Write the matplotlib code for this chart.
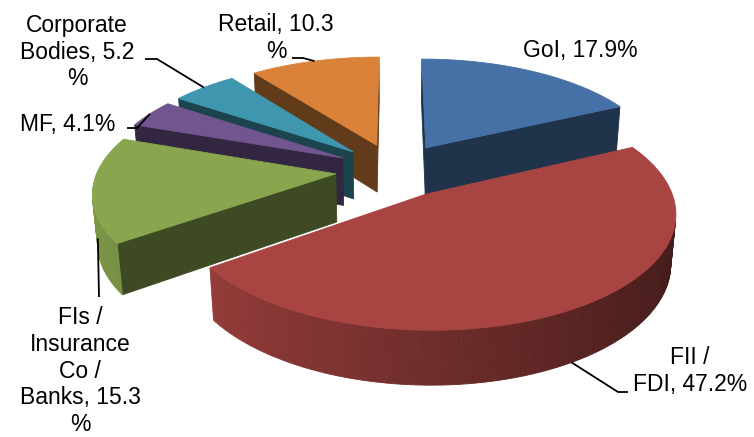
import numpy as np
import matplotlib
matplotlib.use("Agg")
import matplotlib.pyplot as plt
from matplotlib.patches import Polygon
from matplotlib.colors import to_rgb

# ---------------- data ----------------
categories = ["GoI", "FII / FDI", "FIs / Insurance Co / Banks", "MF",
              "Corporate Bodies", "Retail"]
shares = [17.9, 47.2, 15.3, 4.1, 5.2, 10.3]
label_texts = ["GoI, 17.9%", "FII /\nFDI, 47.2%",
               "FIs /\nInsurance\nCo /\nBanks, 15.3\n%", "MF, 4.1%",
               "Corporate\nBodies, 5.2\n%", "Retail, 10.3\n%"]

# ---------------- style ----------------
top_colors = ["#4571A6", "#A84441", "#89A54E", "#70558F", "#3E97AE", "#DA823A"]
label_pos = [(580, 51), (690, 371), (80, 371), (68, 124), (77, 52), (276, 38)]
leader_start = [None, [(628, 392), (618, 392)], [(99, 297)],
                [(127, 128), (137, 128)], [(145, 59), (157, 59)],
                [(292, 58), (303, 58)]]
anchor_bottom = [False, True, True, False, False, False]

TILT = np.radians(27)
FOCAL = 6.0
DEPTH = 0.23
EXPLODE = 0.25
SCALE = 238
CX, CY = 395, 170
W, H = 754, 437


def project(x, y, z):
    yy = y * np.sin(TILT) + z * np.cos(TILT)
    d = y * np.cos(TILT) - z * np.sin(TILT)
    s = FOCAL / (FOCAL + d)
    return CX + SCALE * x * s, CY - SCALE * yy * s, d


def shade(color, f):
    r, g, b = to_rgb(color)
    return (r * f, g * f, b * f)


def proj_poly(pts):
    arr = np.array([project(*p) for p in pts])
    return arr[:, :2], arr[:, 2].mean()


def visible(xy):
    x = xy[:, 0]
    y = -xy[:, 1]
    area = 0.5 * np.sum(x * np.roll(y, -1) - np.roll(x, -1) * y)
    return area > 0


fig = plt.figure(figsize=(W / 100, H / 100), dpi=100)
ax = fig.add_axes([0, 0, 1, 1])
ax.set_xlim(0, W)
ax.set_ylim(H, 0)
ax.axis("off")

sides = []
tops = []
anchors = []
cum = 0.0
for i, v in enumerate(shares):
    a0 = 90 - cum * 3.6
    a1 = a0 - v * 3.6
    cum += v
    mid = np.radians((a0 + a1) / 2)
    ox, oy = EXPLODE * np.cos(mid), EXPLODE * np.sin(mid)
    n = max(int(abs(a0 - a1)), 2) + 1
    th = np.radians(np.linspace(a1, a0, n))
    xs = ox + np.cos(th)
    ys = oy + np.sin(th)
    col = top_colors[i]
    # top face
    top_pts = [(ox, oy, 0)] + [(x, y, 0) for x, y in zip(xs, ys)]
    xy, d = proj_poly(top_pts)
    tops.append((xy, col))
    # outer wall
    for j in range(n - 1):
        quad = [(xs[j], ys[j], -DEPTH), (xs[j + 1], ys[j + 1], -DEPTH),
                (xs[j + 1], ys[j + 1], 0), (xs[j], ys[j], 0)]
        xy, d = proj_poly(quad)
        if visible(xy):
            tm = 0.5 * (th[j] + th[j + 1])
            f = 0.66 - 0.26 * np.cos(tm)
            sides.append((d, xy, shade(col, f)))
    # radial faces
    ra0 = np.radians(a0)
    ra1 = np.radians(a1)
    e0 = (ox + np.cos(ra0), oy + np.sin(ra0))
    e1 = (ox + np.cos(ra1), oy + np.sin(ra1))
    f0 = [(ox, oy, -DEPTH), (ox, oy, 0), (e0[0], e0[1], 0), (e0[0], e0[1], -DEPTH)]
    f1 = [(ox, oy, -DEPTH), (e1[0], e1[1], -DEPTH), (e1[0], e1[1], 0), (ox, oy, 0)]
    for face in (f0, f1):
        xy, d = proj_poly(face)
        if visible(xy):
            sides.append((d, xy, shade(col, 0.45)))
    z = -DEPTH if anchor_bottom[i] else 0
    px, py, _ = project(ox + np.cos(mid), oy + np.sin(mid), z)
    anchors.append((px, py))

sides.sort(key=lambda t: -t[0])
zo = 1
for d, xy, c in sides:
    ax.add_patch(Polygon(xy, closed=True, facecolor=c, edgecolor=c,
                         linewidth=0.6, zorder=zo))
    zo += 0.001
for xy, c in tops:
    ax.add_patch(Polygon(xy, closed=True, facecolor=c, edgecolor=c,
                         linewidth=0.6, zorder=5))

for i in range(len(shares)):
    ax.text(label_pos[i][0], label_pos[i][1], label_texts[i], ha="center",
            va="center", fontsize=16.5, family="Liberation Sans",
            color="black", zorder=10, linespacing=1.2)
    if leader_start[i] is not None:
        pts = leader_start[i] + [anchors[i]]
        ax.plot([p[0] for p in pts], [p[1] for p in pts], color="black",
                lw=1.3, zorder=9, solid_capstyle="butt")

fig.savefig("out.png", dpi=100)
